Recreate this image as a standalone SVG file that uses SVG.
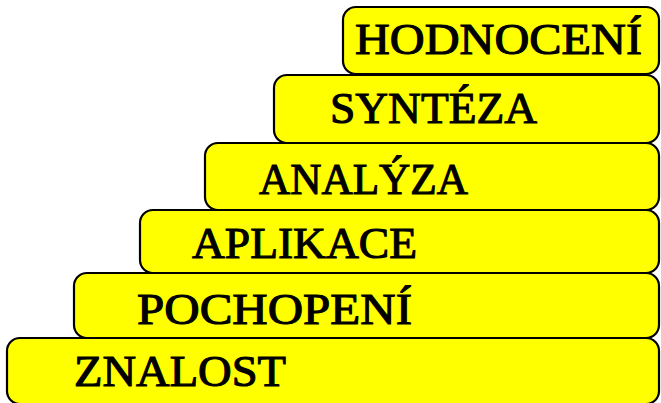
<svg xmlns="http://www.w3.org/2000/svg" width="661" height="403" viewBox="0 0 661 403">
<style>
.box{fill:#ffff00;stroke:#000;stroke-width:2.2}
.lbl{font-family:"Liberation Serif","Times New Roman",serif;font-size:45px;fill:#000;stroke:#000;stroke-width:1.1}
</style>
<rect width="661" height="403" fill="#fff"/>
<g id="hodnoceni"><rect class="box" x="343" y="7" width="316" height="67" rx="13"/><text class="lbl" x="355" y="54" textLength="287" lengthAdjust="spacingAndGlyphs">HODNOCENÍ</text></g>
<g id="synteza"><rect class="box" x="274" y="75" width="385" height="68" rx="13"/><text class="lbl" x="330" y="123" textLength="207" lengthAdjust="spacingAndGlyphs">SYNTÉZA</text></g>
<g id="analyza"><rect class="box" x="205" y="143" width="454" height="67" rx="13"/><text class="lbl" x="259" y="194" textLength="209" lengthAdjust="spacingAndGlyphs">ANALÝZA</text></g>
<g id="aplikace"><rect class="box" x="140" y="210" width="519" height="63" rx="13"/><text class="lbl" x="192" y="258" textLength="225" lengthAdjust="spacingAndGlyphs">APLIKACE</text></g>
<g id="pochopeni"><rect class="box" x="74" y="273" width="585" height="65" rx="13"/><text class="lbl" x="137" y="324" textLength="275" lengthAdjust="spacingAndGlyphs">POCHOPENÍ</text></g>
<g id="znalost"><rect class="box" x="7" y="338" width="652" height="66" rx="13"/><text class="lbl" x="74" y="386" textLength="212" lengthAdjust="spacingAndGlyphs">ZNALOST</text></g>
<g id="connectors"/>
</svg>
